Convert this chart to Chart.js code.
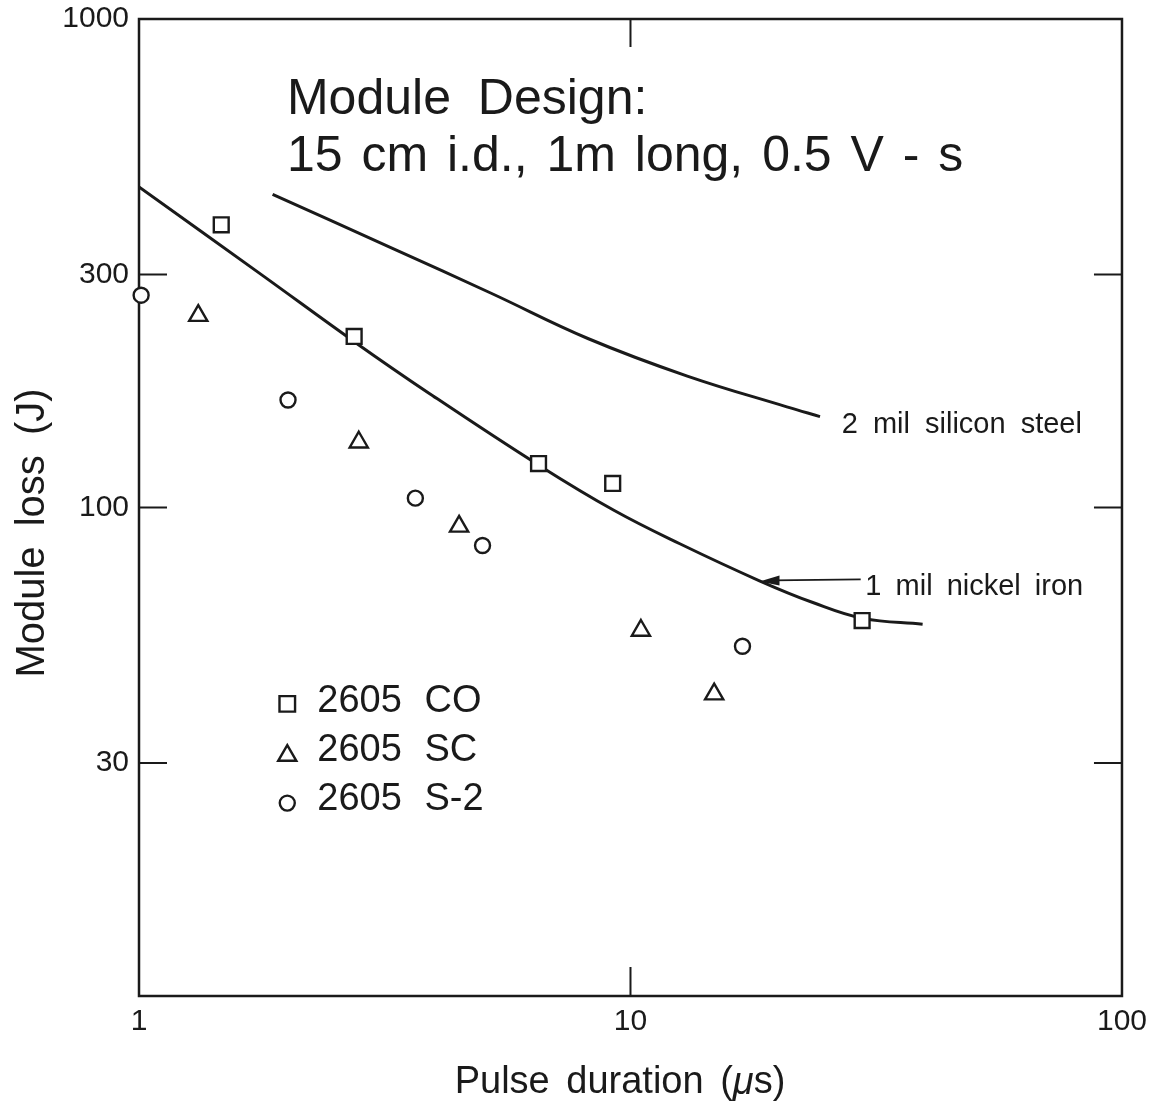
<!DOCTYPE html>
<html>
<head>
<meta charset="utf-8">
<script src="https://cdn.jsdelivr.net/npm/chart.js@4.4.1/dist/chart.umd.min.js"></script>
<style>
  body { margin: 0; background: #fff; }
</style>
</head>
<body>
<canvas id="loss-canvas" width="1155" height="1110"></canvas>
<script>
// values: pulse duration (us) -> module loss (J)
var co_x = [1.47, 2.74, 6.5, 9.2, 29.6]
var co_y = [379, 224, 123, 112, 58.7]
var sc_x = [1.32, 2.8, 4.48, 10.5, 14.8]
var sc_y = [247, 136, 91.5, 56, 41.5]
var s2_x = [1.01, 2.01, 3.65, 5.0, 16.9]
var s2_y = [272, 166, 104.5, 83.6, 52]

var nickel_x = [1.0, 1.78, 2.75, 3.89, 6.53, 9.27, 12.6, 18.3, 23.5, 29.7, 39.3]
var nickel_y = [453, 299, 218, 171.4, 121.8, 98.6, 84.3, 70.8, 63.9, 59.3, 57.7]
var steel_x = [1.87, 3.27, 5.22, 8.19, 13.05, 20.8, 24.3]
var steel_y = [437.5, 339.6, 274.2, 221.8, 185.8, 160.7, 153.5]

var x_ticks = [1, 10, 100]
var y_ticks = [30, 100, 300, 1000]

var ink = '#1a1a1a'
var family = "'Liberation Sans', Arial, Helvetica, sans-serif"

function zip(xs, ys) {
    var out = []
    for (let i = 0; i < xs.length; i++) {
        out.push({x: xs[i], y: ys[i]})
    }
    return out
}

function put_text(ctx, text, x, y, size, spacing) {
    ctx.font = size + 'px ' + family
    ctx.wordSpacing = spacing + 'px'
    ctx.fillText(text, x, y)
}

// frame, inward ticks, notes and legend drawn on top of the chart
var framePlugin = {
    id: 'frame',
    beforeDatasetsDraw: function (chart) {
        var ctx = chart.ctx
        var a = chart.chartArea
        var xs = chart.scales.x
        var ys = chart.scales.y
        ctx.save()
        ctx.strokeStyle = ink
        ctx.lineWidth = 2.5
        ctx.strokeRect(a.left, a.top, a.right - a.left, a.bottom - a.top)
        ctx.lineWidth = 2
        ctx.beginPath()
        x_ticks.slice(1, -1).forEach(function (v) {
            var p = xs.getPixelForValue(v)
            ctx.moveTo(p, a.bottom); ctx.lineTo(p, a.bottom - 29)
            ctx.moveTo(p, a.top); ctx.lineTo(p, a.top + 28)
        })
        y_ticks.slice(0, -1).forEach(function (v) {
            var p = ys.getPixelForValue(v)
            ctx.moveTo(a.left, p); ctx.lineTo(a.left + 28, p)
            ctx.moveTo(a.right, p); ctx.lineTo(a.right - 28, p)
        })
        ctx.stroke()
        ctx.restore()
    },
    afterDraw: function (chart) {
        var ctx = chart.ctx
        var xs = chart.scales.x
        var ys = chart.scales.y
        var px = function (v) { return xs.getPixelForValue(v) }
        var py = function (v) { return ys.getPixelForValue(v) }
        ctx.save()
        ctx.fillStyle = ink
        ctx.strokeStyle = ink
        ctx.textBaseline = 'alphabetic'
        ctx.textAlign = 'left'

        // heading inside the plot
        put_text(ctx, 'Module Design:', px(2.0), py(640), 50, 13)
        put_text(ctx, '15 cm i.d., 1m long, 0.5 V - s', px(2.0), py(488), 50, 5)

        // curve labels
        put_text(ctx, '2 mil silicon steel', px(26.9), py(141.8), 29, 7)
        put_text(ctx, '1 mil nickel iron', px(30.05), py(66.3), 29, 6)

        // arrow to the nickel iron curve
        var ax0 = px(29.4), ax1 = px(18.3), ay = py(70.9)
        ctx.lineWidth = 1.8
        ctx.beginPath()
        ctx.moveTo(ax0, ay - 1)
        ctx.lineTo(ax1 + 14, ay)
        ctx.stroke()
        ctx.beginPath()
        ctx.moveTo(ax1, ay + 1)
        ctx.lineTo(ax1 + 20, ay - 5)
        ctx.lineTo(ax1 + 20, ay + 5)
        ctx.closePath()
        ctx.fill()

        // legend
        var rows = [
            ['2605 CO', 'rect', 40.0, 11, 2],
            ['2605 SC', 'triangle', 31.8, 10.5, 5],
            ['2605 S-2', 'circle', 25.3, 7.5, 4]
        ]
        ctx.textBaseline = 'middle'
        rows.forEach(function (r) {
            var y = py(r[2])
            ctx.lineWidth = 2.4
            ctx.fillStyle = '#fff'
            Chart.helpers.drawPoint(ctx, {pointStyle: r[1], radius: r[3], rotation: 0, borderWidth: 2.4}, px(2.003), y + r[4])
            ctx.fillStyle = ink
            put_text(ctx, r[0], px(2.306), y, 38, 12)
        })

        // axis titles
        ctx.textBaseline = 'middle'
        ctx.save()
        ctx.translate(33, 533)
        ctx.rotate(-Math.PI / 2)
        ctx.textAlign = 'center'
        put_text(ctx, 'Module loss (J)', 0, 0, 40, 9)
        ctx.restore()

        ctx.textAlign = 'left'
        ctx.font = '38px ' + family
        ctx.wordSpacing = '6px'
        var partA = 'Pulse duration (', partC = 's)'
        var wA = ctx.measureText(partA).width
        var wC = ctx.measureText(partC).width
        ctx.font = 'italic 38px ' + family
        var wB = ctx.measureText('\u03bc').width
        var x0 = 620 - (wA + wB + wC) / 2
        var ty = 1083
        put_text(ctx, partA, x0, ty, 38, 6)
        ctx.font = 'italic 38px ' + family
        ctx.fillText('\u03bc', x0 + wA, ty)
        put_text(ctx, partC, x0 + wA + wB, ty, 38, 6)
        ctx.restore()
    }
}

var markerStyle = {
    showLine: false,
    pointRadius: 10.5,
    pointBorderWidth: 2.4,
    pointBorderColor: ink,
    pointBackgroundColor: '#fff',
    clip: false,
    order: 1
}

var ctx = document.getElementById('loss-canvas').getContext('2d')
var lossChart = new Chart(ctx, {
    type: 'scatter',
    data: {
        datasets: [
            {
                label: '1 mil nickel iron',
                data: zip(nickel_x, nickel_y),
                showLine: true,
                pointRadius: 0,
                borderColor: ink,
                borderWidth: 3,
                tension: 0.4,
                order: 3
            },
            {
                label: '2 mil silicon steel',
                data: zip(steel_x, steel_y),
                showLine: true,
                pointRadius: 0,
                borderColor: ink,
                borderWidth: 3,
                tension: 0.4,
                order: 3
            },
            Object.assign({label: '2605 CO', data: zip(co_x, co_y), pointStyle: 'rect'}, markerStyle),
            Object.assign({label: '2605 SC', data: zip(sc_x, sc_y), pointStyle: 'triangle'}, markerStyle),
            Object.assign({label: '2605 S-2', data: zip(s2_x, s2_y), pointStyle: 'circle'}, markerStyle, {pointRadius: 7.5})
        ]
    },
    options: {
        responsive: false,
        animation: false,
        events: [],
        layout: {padding: {top: 19, right: 30, left: 0, bottom: 0}},
        plugins: {
            legend: {display: false},
            tooltip: {enabled: false}
        },
        scales: {
            x: {
                type: 'logarithmic',
                min: 1,
                max: 100,
                grid: {display: false, drawTicks: false},
                border: {display: false},
                ticks: {
                    color: ink,
                    font: {family: family, size: 30},
                    padding: 8,
                    maxRotation: 0,
                    autoSkip: false,
                    callback: function (v) { return String(v) }
                },
                afterBuildTicks: function (s) {
                    s.ticks = x_ticks.map(function (v) { return {value: v} })
                },
                afterFit: function (s) { s.height = 114 }
            },
            y: {
                type: 'logarithmic',
                min: 10,
                max: 1000,
                grid: {display: false, drawTicks: false},
                border: {display: false},
                ticks: {
                    color: ink,
                    font: {family: family, size: 30},
                    padding: 10,
                    autoSkip: false,
                    callback: function (v) { return String(v) }
                },
                afterBuildTicks: function (s) {
                    s.ticks = y_ticks.map(function (v) { return {value: v} })
                },
                afterFit: function (s) {
                    s.width = 139
                    s.paddingTop = 0
                    s.paddingBottom = 0
                }
            }
        }
    },
    plugins: [framePlugin]
});
</script>
</body>
</html>
